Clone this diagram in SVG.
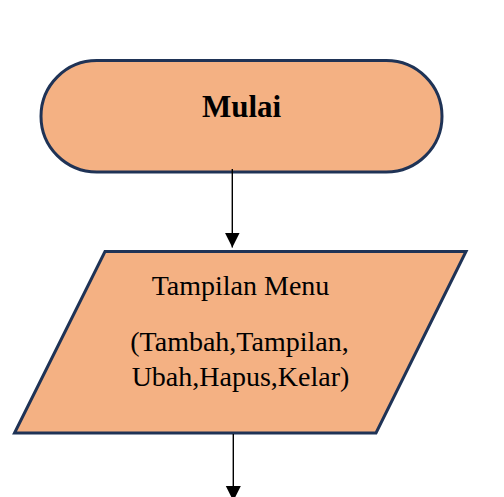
<svg xmlns="http://www.w3.org/2000/svg" width="504" height="497" viewBox="0 0 504 497">
<style>
.shape{fill:#F4B183;stroke:#1F3356;stroke-width:3}
.txt{font-family:"Liberation Serif","Times New Roman",serif;fill:#000;text-anchor:middle}
.conn{stroke:#000;stroke-width:1.4;fill:none}
</style>
<defs>
<marker id="arr" markerUnits="userSpaceOnUse" markerWidth="15" markerHeight="16" refX="15" refY="7.5" orient="auto">
<path d="M0,0 L15,7.5 L0,15 Z" fill="#000"/>
</marker>
</defs>
<rect width="504" height="497" fill="#fff"/>
<g id="start">
<rect class="shape" x="41" y="60.5" width="401" height="111.5" rx="55.75" ry="55.75"/>
<text class="txt" x="241.5" y="116.5" font-size="31" font-weight="bold">Mulai</text>
</g>
<g id="menu">
<polygon class="shape" points="105,251.5 466,251.5 376,433 14.5,433"/>
<text class="txt" x="240.5" y="295" font-size="28">Tampilan Menu</text>
<text class="txt" x="239.5" y="351" font-size="28">(Tambah,Tampilan,</text>
<text class="txt" x="240.5" y="386" font-size="28">Ubah,Hapus,Kelar)</text>
</g>
<g id="connectors">
<line class="conn" x1="232.3" y1="169" x2="232.3" y2="247.5" marker-end="url(#arr)"/>
<line class="conn" x1="233.3" y1="434" x2="233.3" y2="501" marker-end="url(#arr)"/>
</g>
</svg>
